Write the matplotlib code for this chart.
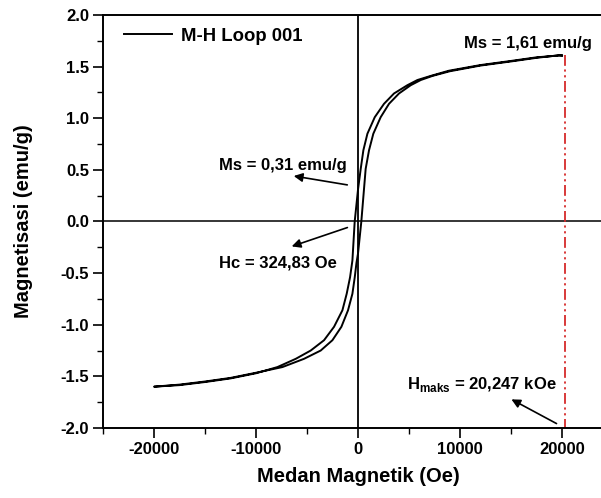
import numpy as np
import matplotlib
matplotlib.use('Agg')
import matplotlib.pyplot as plt

plt.rcParams['font.family'] = ['Liberation Sans', 'DejaVu Sans']
plt.rcParams['font.weight'] = 'bold'
plt.rcParams['axes.unicode_minus'] = False
plt.rcParams['mathtext.fontset'] = 'custom'
plt.rcParams['mathtext.rm'] = 'Liberation Sans:bold'
plt.rcParams['mathtext.bf'] = 'Liberation Sans:bold'

# Descending branch (from +H to -H)
h_down = [20000, 17500, 15000, 12000, 8900, 7130, 5820, 4840, 3530, 2550, 1640, 920,
          525, 265, 0, -325, -550, -780, -1110, -1530, -2350, -3330, -4640, -6100,
          -7900, -10000, -12500, -15000, -17500, -20000]
m_down = [1.61, 1.59, 1.555, 1.515, 1.46, 1.41, 1.37, 1.32, 1.24, 1.14, 1.01, 0.85,
          0.69, 0.51, 0.31, 0.0, -0.378, -0.54, -0.70, -0.86, -1.02, -1.15, -1.25, -1.33,
          -1.41, -1.47, -1.52, -1.555, -1.585, -1.60]
# Ascending branch (from -H to +H)
h_up = [-20000, -17500, -15000, -12500, -10000, -7410, -5290, -3660, -2510, -1630,
        -980, -550, -320, -150, 0, 325, 750, 1080, 1500, 2220, 3040, 4020, 5170,
        6150, 7300, 9000, 12000, 15000, 17500, 19700, 20000]
m_up = [-1.60, -1.58, -1.55, -1.515, -1.465, -1.41, -1.33, -1.25, -1.15, -1.02,
        -0.86, -0.70, -0.54, -0.40, -0.31, 0.0, 0.51, 0.69, 0.85, 1.01, 1.14, 1.24, 1.32,
        1.37, 1.41, 1.455, 1.51, 1.55, 1.585, 1.61, 1.605]

h_max = 20247
x_ticks = [-20000, -10000, 0, 10000, 20000]
y_ticks = [-2.0, -1.5, -1.0, -0.5, 0.0, 0.5, 1.0, 1.5, 2.0]

fig = plt.figure(figsize=(6.01, 4.98), dpi=100)
ax = fig.add_axes([0.1714, 0.1406, 0.8486, 0.8293])

ax.plot(h_down + h_up, m_down + m_up, color='black', lw=1.4, label='M-H Loop 001')
ax.axhline(0, color='black', lw=1.1)
ax.axvline(0, color='black', lw=1.3)
ax.plot([h_max, h_max], [1.61, -2.0], color='#d62a2a', lw=1.3,
        ls=(0, (6, 2, 1.2, 2, 1.2, 2)))

ax.set_xlim(-25000, 25000)
ax.set_ylim(-2.0, 2.0)
ax.set_xticks(x_ticks)
ax.set_yticks(y_ticks)
ax.set_xticks(np.arange(-25000, 25001, 5000), minor=True)
ax.set_yticks(np.arange(-2.0, 2.01, 0.25), minor=True)
ax.set_yticklabels([f'{v:.1f}' for v in y_ticks])
ax.tick_params(which='major', direction='out', length=7, width=1.2, labelsize=12, pad=3)
ax.tick_params(which='minor', direction='out', length=4, width=1.0)
for s in ax.spines.values():
    s.set_linewidth(1.4)

ax.set_xlabel('Medan Magnetik (Oe)', fontsize=14.5, fontweight='bold', labelpad=7)
ax.set_ylabel('Magnetisasi (emu/g)', fontsize=14.5, fontweight='bold', labelpad=20)

leg = ax.legend(loc='upper left', frameon=False, handlelength=2.6, handletextpad=0.5,
                prop={'weight': 'bold', 'size': 13.3},
                bbox_to_anchor=(0.015, 1.0), borderaxespad=0.3)

arrow = dict(arrowstyle='-|>', color='black', lw=1.2, mutation_scale=13)
ax.text(16670, 1.72, 'Ms = 1,61 emu/g', ha='center', va='center', fontsize=12, fontweight='bold')
ax.text(-7350, 0.54, 'Ms = 0,31 emu/g', ha='center', va='center', fontsize=12, fontweight='bold')
ax.annotate('', xy=(-6570, 0.445), xytext=(-784, 0.35), arrowprops=arrow)
ax.text(-7840, -0.40, 'Hc = 324,83 Oe', ha='center', va='center', fontsize=12, fontweight='bold')
ax.annotate('', xy=(-6760, -0.25), xytext=(-784, -0.05), arrowprops=arrow)
ax.text(12160, -1.58, r'H$_{\rm maks}$ = 20,247 kOe', ha='center', va='center',
        fontsize=12, fontweight='bold')
ax.annotate('', xy=(14800, -1.71), xytext=(19700, -1.97), arrowprops=arrow)

fig.savefig('out.png', dpi=100)
